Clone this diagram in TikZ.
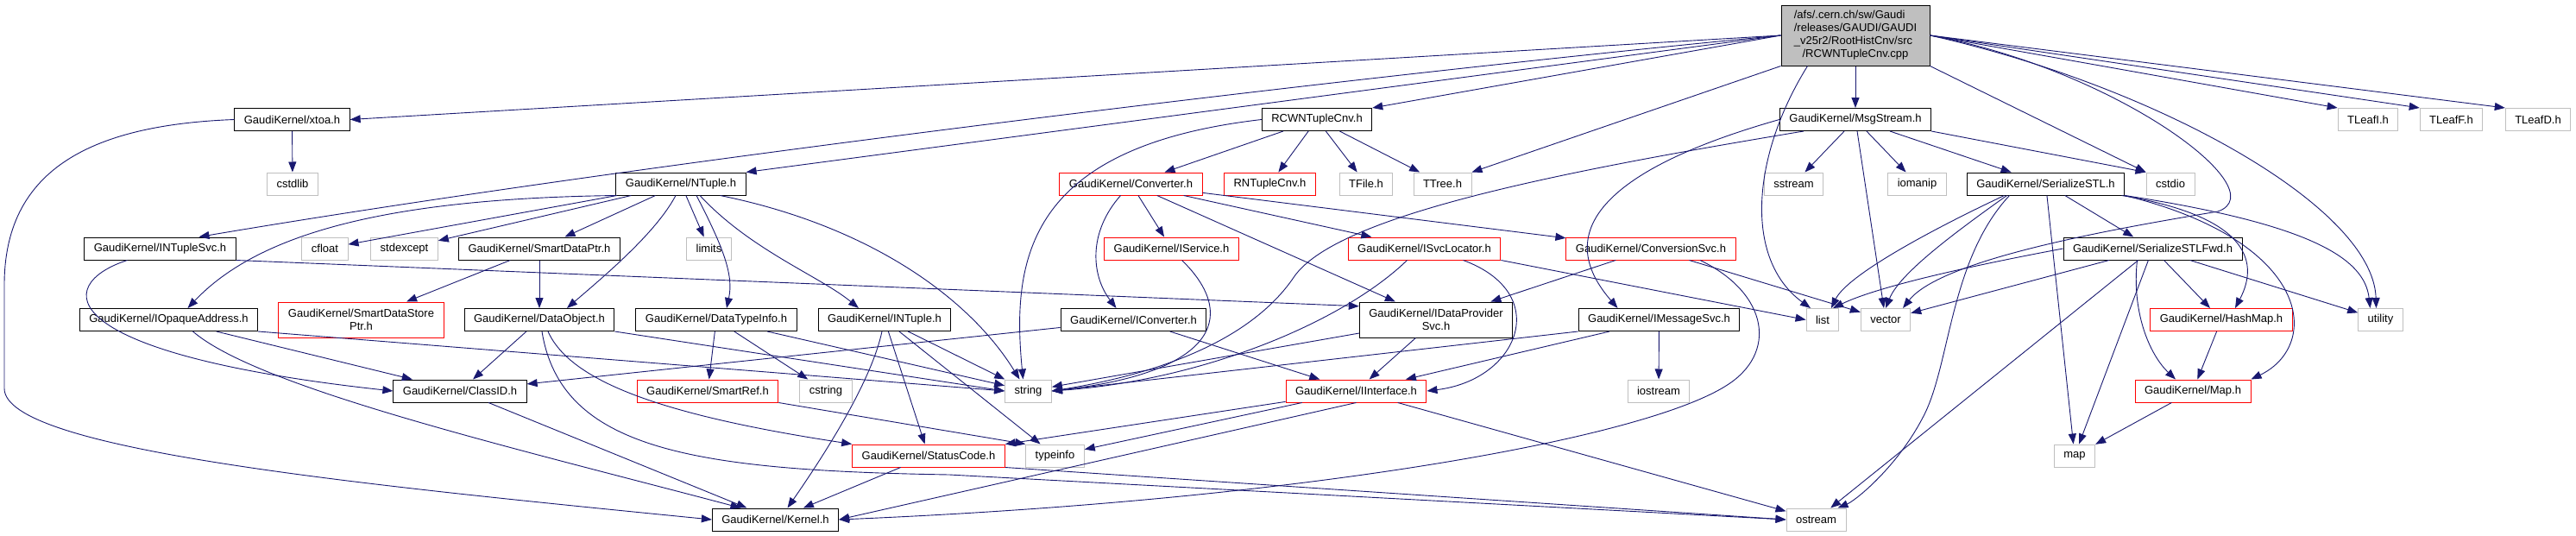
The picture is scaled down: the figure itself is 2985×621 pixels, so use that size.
\documentclass[tikz,border=0pt]{standalone}
\usepackage{fontspec}
\setmainfont{Liberation Sans}
\usetikzlibrary{arrows.meta}
\definecolor{edgeblue}{HTML}{191970}
\definecolor{extgray}{HTML}{BFBFBF}
\begin{document}
\begin{tikzpicture}[x=1pt, y=-1pt, >={Triangle[length=12pt,width=9pt]},
    hdr/.style={draw=black, fill=white, line width=1pt, inner xsep=11pt, inner ysep=0pt,
        minimum height=26pt, align=center, font=\fontsize{13}{14.5}\selectfont},
    redhdr/.style={hdr, draw=red},
    sys/.style={hdr, draw=extgray},
    dep/.style={->, draw=edgeblue, line width=0.9pt}]
\useasboundingbox (0,0) rectangle (2985,621);

\node[hdr, fill=extgray, minimum width=172pt, minimum height=70pt, font=\fontsize{13}{15}\selectfont] (root) at (2150,41)
    {\begin{tabular}{@{}l@{}}/afs/.cern.ch/sw/Gaudi\\/releases/GAUDI/GAUDI\\\_v25r2/RootHistCnv/src\\
    \multicolumn{1}{@{}c@{}}{/RCWNTupleCnv.cpp}\end{tabular}};

\node[hdr] (xtoa) at (338.5,138.5) {GaudiKernel/xtoa.h};
\node[hdr] (rcwcnv) at (1526,138.5) {RCWNTupleCnv.h};
\node[hdr] (msgstream) at (2150,138.5) {GaudiKernel/MsgStream.h};

\node[hdr] (ntuple) at (789,213) {GaudiKernel/NTuple.h};
\node[redhdr] (converter) at (1310.5,213) {GaudiKernel/Converter.h};
\node[redhdr] (rntuplecnv) at (1471.5,213) {RNTupleCnv.h};
\node[hdr] (serstl) at (2370.5,213) {GaudiKernel/SerializeSTL.h};

\node[hdr] (intuplesvc) at (185.5,288) {GaudiKernel/INTupleSvc.h};
\node[hdr] (smartdataptr) at (625,288) {GaudiKernel/SmartDataPtr.h};
\node[redhdr] (iservice) at (1357.5,288) {GaudiKernel/IService.h};
\node[redhdr] (isvclocator) at (1650.5,288) {GaudiKernel/ISvcLocator.h};
\node[redhdr] (convsvc) at (1913,288) {GaudiKernel/ConversionSvc.h};
\node[hdr] (serstlfwd) at (2494.5,288) {GaudiKernel/SerializeSTLFwd.h};

\node[hdr] (iopaque) at (195.5,370.5) {GaudiKernel/IOpaqueAddress.h};
\node[redhdr, minimum height=41pt] (smartstoreptr) at (418.5,370.5) {GaudiKernel/SmartDataStore\\Ptr.h};
\node[hdr] (dataobject) at (625,370.5) {GaudiKernel/DataObject.h};
\node[hdr] (datatypeinfo) at (830,370.5) {GaudiKernel/DataTypeInfo.h};
\node[hdr] (intuple) at (1025,370.5) {GaudiKernel/INTuple.h};
\node[hdr] (iconverter) at (1313.5,370.5) {GaudiKernel/IConverter.h};
\node[hdr, minimum height=41pt] (idataprov) at (1664,370.5) {GaudiKernel/IDataProvider\\Svc.h};
\node[hdr] (imsgsvc) at (1922.5,370.5) {GaudiKernel/IMessageSvc.h};
\node[redhdr] (hashmap) at (2574,370.5) {GaudiKernel/HashMap.h};

\node[hdr] (classid) at (533,453) {GaudiKernel/ClassID.h};
\node[redhdr] (smartref) at (820,453) {GaudiKernel/SmartRef.h};
\node[redhdr] (interface) at (1571.5,453) {GaudiKernel/IInterface.h};
\node[redhdr] (mapk) at (2541,453) {GaudiKernel/Map.h};

\node[redhdr] (statuscode) at (1076,528) {GaudiKernel/StatusCode.h};
\node[hdr] (kernel) at (898.5,602) {GaudiKernel/Kernel.h};

\foreach \n/\x/\y/\lbl in {tleafi/2744/138.5/TLeafI.h, tleaff/2840.5/138.5/TLeafF.h, tleafd/2941/138.5/TLeafD.h,
    cstdlib/339/213/cstdlib, tfile/1583/213/TFile.h, ttree/1671.5/213/TTree.h, sstream/2078.5/213/sstream,
    iomanip/2221.5/213/iomanip, cstdio/2515/213/cstdio, cfloat/376.5/288/cfloat, stdexcept/468.5/288/stdexcept,
    limits/821.5/288/limits, list/2112/370.5/list, vector/2185/370.5/vector, utility/2758.5/370.5/utility,
    cstring/957/453/cstring, string/1191.5/453/string, iostream/1922/453/iostream,
    typeinfo/1222.5/528/typeinfo, map/2404/528/map, ostream/2104.5/602/ostream}
{
    \node[sys] (\n) at (\x,\y) {\lbl};
}

\foreach \a/\b in {root/msgstream, xtoa/cstdlib, rcwcnv/converter, rcwcnv/rntuplecnv, rcwcnv/tfile, rcwcnv/ttree,
    msgstream/sstream, msgstream/iomanip, msgstream/serstl, msgstream/vector,
    ntuple/cfloat, ntuple/stdexcept, ntuple/smartdataptr, ntuple/limits,
    converter/iservice, converter/isvclocator, converter/convsvc, converter/idataprov,
    serstl/serstlfwd, serstl/map, smartdataptr/smartstoreptr, smartdataptr/dataobject,
    convsvc/idataprov, convsvc/vector, serstlfwd/vector, serstlfwd/ostream, serstlfwd/map,
    serstlfwd/hashmap, serstlfwd/utility, iopaque/classid, dataobject/classid,
    datatypeinfo/smartref, datatypeinfo/cstring, datatypeinfo/string,
    intuple/string, intuple/statuscode, intuple/typeinfo, iconverter/classid, iconverter/interface,
    idataprov/string, idataprov/interface, imsgsvc/interface, imsgsvc/iostream,
    hashmap/mapk, classid/kernel, interface/statuscode, interface/typeinfo, interface/ostream,
    mapk/map, statuscode/kernel}
{
    \draw[dep] (\a)--(\b);
}

\draw[dep] (root.west)--(xtoa.east);
\draw[dep] (root.west)--(ntuple.north east);
\draw[dep] (root.west)--(rcwcnv.north east);
\draw[dep] (root.south west)--(ttree.north east);
\draw[dep] (root.south east)--(cstdio.north west);
\draw[dep] (msgstream.south east)--(cstdio.north west);
\foreach \n in {tleafi, tleaff, tleafd}
{
    \draw[dep] (root.east)--(\n.north west);
}
\draw[dep] (intuplesvc.south east)--(idataprov.170);
\draw[dep] (isvclocator.south east)--(list.west);
\draw[dep] (iopaque.south east)--(string.west);
\draw[dep] (dataobject.south east)--(string.west);
\draw[dep] (imsgsvc.south west)--(string.east);
\draw[dep] (smartref.south east)--(typeinfo.north west);
\draw[dep] (interface.south)--(kernel.east);
\draw[dep] (statuscode.south east)--(ostream.west);

\draw[dep] (root.west) .. controls (1500,95) and (700,195) .. ([xshift=45pt]intuplesvc.north);
\draw[dep] ([xshift=31pt]root.south west) .. controls (2030,180) and (2020,300) .. ([xshift=-14pt]list.north);
\draw[dep] (root.east) .. controls (2450,80) and (2640,220) .. (2570,245) .. controls (2450,265) and (2250,300) .. ([xshift=20pt]vector.north);
\draw[dep] (root.east) .. controls (2500,100) and (2750,240) .. ([xshift=-5pt]utility.north);
\draw[dep] (xtoa.west) .. controls (100,145) and (5,200) .. (5,330) -- (5,450) .. controls (5,520) and (400,560) .. (kernel.west);
\draw[dep] (rcwcnv.west) .. controls (1190,170) and (1172,300) .. ([xshift=-6pt]string.north);
\draw[dep] (ntuple.south west) .. controls (450,230) and (300,270) .. ([xshift=22pt]iopaque.north);
\draw[dep] ([xshift=-6pt]ntuple.south) .. controls (760,270) and (700,320) .. ([xshift=32pt]dataobject.north);
\draw[dep] ([xshift=18pt]ntuple.south) .. controls (840,290) and (850,320) .. ([xshift=12pt]datatypeinfo.north);
\draw[dep] ([xshift=22pt]ntuple.south) .. controls (870,290) and (950,320) .. ([xshift=-30pt]intuple.north);
\draw[dep] ([xshift=-30pt]ntuple.south east) .. controls (1000,260) and (1120,340) .. ([xshift=-10pt]string.north);
\draw[dep] ([xshift=-38pt]intuplesvc.south) .. controls (60,330) and (60,410) .. (classid.west);
\draw[dep] ([xshift=-12pt]converter.south) .. controls (1260,270) and (1265,320) .. ([xshift=-20pt]iconverter.north);
\draw[dep] ([xshift=12pt]iservice.south) .. controls (1430,360) and (1420,430) .. (string.east);
\draw[dep] ([xshift=-60pt]msgstream.south) .. controls (1800,200) and (1550,250) .. (1500,320) .. controls (1440,410) and (1300,440) .. (string.east);
\draw[dep] (msgstream.west) .. controls (1880,190) and (1790,260) .. ([xshift=-48pt]imsgsvc.north);
\draw[dep] ([xshift=-20pt]isvclocator.south) .. controls (1560,370) and (1400,440) .. (string.east);
\draw[dep] ([xshift=45pt]isvclocator.south) .. controls (1800,340) and (1760,440) .. (interface.east);
\draw[dep] ([xshift=57pt]convsvc.south) .. controls (2050,340) and (2060,410) .. (2000,447) .. controls (1900,510) and (1500,580) .. (kernel.east);
\draw[dep] ([xshift=88pt]serstl.south) .. controls (2600,250) and (2620,300) .. ([xshift=16pt]hashmap.north);
\draw[dep] (serstl.south east) .. controls (2680,280) and (2690,400) .. (mapk.north east);
\draw[dep] (serstl.south east) .. controls (2680,260) and (2740,300) .. ([xshift=-12pt]utility.north);
\draw[dep] ([xshift=-48pt]serstl.south) .. controls (2230,270) and (2140,320) .. ([xshift=10pt]list.north);
\draw[dep] ([xshift=-45pt]serstl.south) .. controls (2250,280) and (2200,320) .. (vector.north);
\draw[dep] ([xshift=-42pt]serstl.south) .. controls (2260,300) and (2260,420) .. (2230,480) .. controls (2200,540) and (2150,580) .. ([xshift=25pt]ostream.north);
\draw[dep] ([xshift=-18pt]serstlfwd.south) .. controls (2470,360) and (2490,410) .. ([xshift=-20pt]mapk.north);
\draw[dep] (serstlfwd.west) .. controls (2300,305) and (2180,330) .. ([xshift=12pt]list.north);
\draw[dep] ([xshift=28pt]iopaque.south) .. controls (300,450) and (600,520) .. ([xshift=-40pt]kernel.north);
\draw[dep] ([xshift=10pt]dataobject.south) .. controls (660,440) and (760,480) .. (statuscode.north west);
\draw[dep] ([xshift=3pt]dataobject.south) .. controls (650,520) and (800,545) .. (1100,550) -- (ostream.west);
\draw[dep] ([xshift=-3pt]intuple.south) .. controls (1010,440) and (960,520) .. ([xshift=14pt]kernel.north);
\end{tikzpicture}
\end{document}
